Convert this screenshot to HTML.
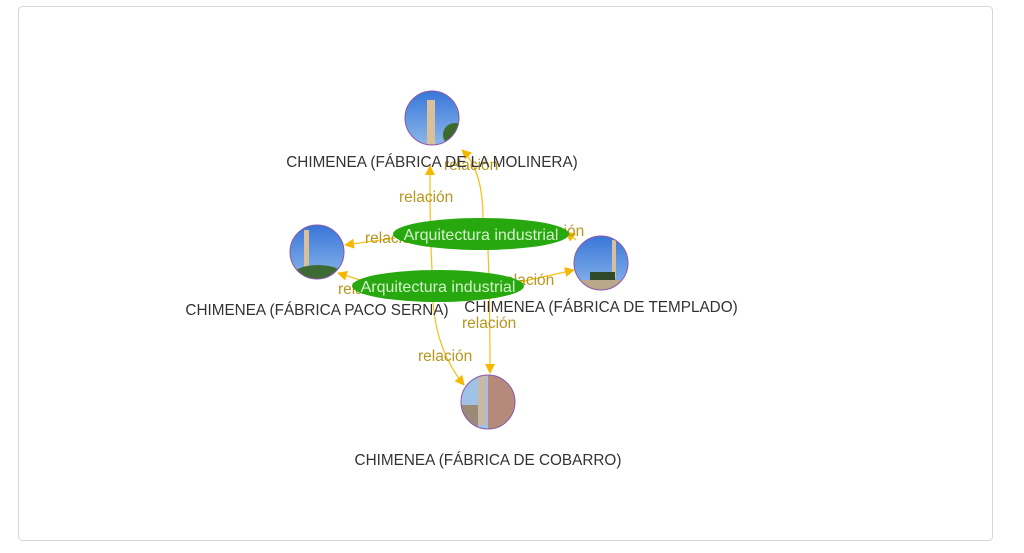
<!DOCTYPE html>
<html><head><meta charset="utf-8"><style>
body{margin:0;background:#fff;width:1024px;height:553px;overflow:hidden}
svg{display:block;font-family:"Liberation Sans",sans-serif}
</style></head><body>
<svg width="1024" height="553" viewBox="0 0 1024 553">
<defs>
<linearGradient id="sky" x1="0" y1="0" x2="0" y2="1"><stop offset="0" stop-color="#2f6fd6"/><stop offset="1" stop-color="#9cc3ee"/></linearGradient>
<marker id="a" markerWidth="10" markerHeight="10" refX="9" refY="5" orient="auto" markerUnits="userSpaceOnUse"><path d="M0,0 L10,5 L0,10 z" fill="#f5b800"/></marker>
<clipPath id="c1"><circle cx="432" cy="118" r="27"/></clipPath>
<clipPath id="c2"><circle cx="317" cy="252" r="27"/></clipPath>
<clipPath id="c3"><circle cx="601" cy="263" r="27"/></clipPath>
<clipPath id="c4"><circle cx="488" cy="402" r="27"/></clipPath>
</defs>
<rect x="18.5" y="6.5" width="974" height="534" rx="4" fill="#fff" stroke="#d6d6d6"/>
<g fill="none" stroke="#f5c016" stroke-width="1.2">
<path d="M483,219 C483,190 478,165 462,150" marker-end="url(#a)"/>
<path d="M432,270 C430,230 430,200 430,166" marker-end="url(#a)"/>
<path d="M395,238 L345,245" marker-end="url(#a)"/>
<path d="M360,280 L338,273" marker-end="url(#a)"/>
<path d="M576,240 L566,232" marker-end="url(#a)"/>
<path d="M520,282 L574,270" marker-end="url(#a)"/>
<path d="M488,250 C490,300 490,340 490,373" marker-end="url(#a)"/>
<path d="M433,302 C436,340 448,365 464,385" marker-end="url(#a)"/>
</g>
<g font-size="15.5" fill="#b5961e">
<text x="444" y="170">relación</text>
<text x="399" y="202">relación</text>
<text x="365" y="243">relación</text>
<text x="338" y="294">relación</text>
<text x="530" y="236">relación</text>
<text x="500" y="285">relación</text>
<text x="462" y="328">relación</text>
<text x="418" y="361">relación</text>
</g>
<ellipse cx="481" cy="234" rx="88" ry="16" fill="#27a80e"/>
<text x="481" y="240" font-size="16" fill="#d4f2cc" text-anchor="middle">Arquitectura industrial</text>
<ellipse cx="438" cy="286" rx="86" ry="16" fill="#27a80e"/>
<text x="438" y="292" font-size="16" fill="#d4f2cc" text-anchor="middle">Arquitectura industrial</text>
<g>
<g clip-path="url(#c1)"><rect x="400" y="85" width="70" height="70" fill="url(#sky)"/><rect x="427" y="100" width="8" height="45" fill="#d9c09a"/><circle cx="455" cy="135" r="12" fill="#3b6b2a"/></g>
<circle cx="432" cy="118" r="27" fill="none" stroke="#8a5aa8"/>
<g clip-path="url(#c2)"><rect x="285" y="220" width="70" height="70" fill="url(#sky)"/><rect x="304" y="230" width="5" height="40" fill="#d9c09a"/><ellipse cx="318" cy="275" rx="25" ry="10" fill="#3e6a34"/></g>
<circle cx="317" cy="252" r="27" fill="none" stroke="#8a5aa8"/>
<g clip-path="url(#c3)"><rect x="570" y="230" width="70" height="70" fill="url(#sky)"/><rect x="612" y="240" width="4" height="38" fill="#d9c09a"/><rect x="590" y="272" width="25" height="12" fill="#2f4a2a"/><rect x="570" y="280" width="70" height="10" fill="#b9a88a"/></g>
<circle cx="601" cy="263" r="27" fill="none" stroke="#8a5aa8"/>
<g clip-path="url(#c4)"><rect x="455" y="370" width="70" height="70" fill="#9fc2e6"/><rect x="478" y="375" width="8" height="50" fill="#c8b8a8"/><rect x="488" y="375" width="30" height="60" fill="#b58a7a"/><rect x="458" y="405" width="20" height="30" fill="#9a8a78"/></g>
<circle cx="488" cy="402" r="27" fill="none" stroke="#8a5aa8"/>
</g>
<g font-size="15.3" fill="#333" text-anchor="middle">
<text x="432" y="167">CHIMENEA (FÁBRICA DE LA MOLINERA)</text>
<text x="317" y="315">CHIMENEA (FÁBRICA PACO SERNA)</text>
<text x="601" y="312">CHIMENEA (FÁBRICA DE TEMPLADO)</text>
<text x="488" y="465">CHIMENEA (FÁBRICA DE COBARRO)</text>
</g>
</svg>
</body></html>
